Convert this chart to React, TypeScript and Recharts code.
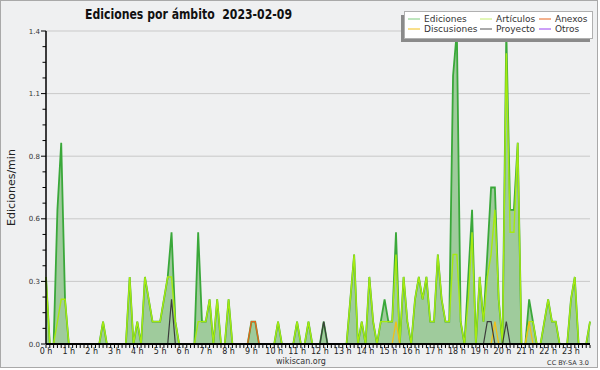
import { ComposedChart, Area, Line, XAxis, YAxis, CartesianGrid } from "recharts";

// ediciones por minuto, un punto cada 10 minutos (00:00 ... 23:50)
const EDICIONES = [
  0.3, 0, 0, 0.6, 0.9, 0.2, 0, 0, 0, 0, 0, 0,
  0, 0, 0, 0.1, 0, 0, 0, 0, 0, 0, 0.3, 0,
  0.1, 0, 0.3, 0.2, 0.1, 0.1, 0.1, 0.2, 0.3, 0.5, 0.1, 0,
  0, 0, 0, 0, 0.5, 0.1, 0.1, 0.2, 0, 0.2, 0, 0,
  0.2, 0, 0, 0, 0, 0, 0.1, 0.1, 0, 0, 0, 0,
  0, 0.1, 0, 0, 0, 0, 0.1, 0, 0, 0.1, 0, 0,
  0, 0.1, 0, 0, 0, 0, 0, 0, 0.2, 0.4, 0, 0.1,
  0, 0.3, 0.1, 0, 0.1, 0.2, 0.1, 0.1, 0.5, 0, 0.3, 0.1,
  0, 0.2, 0.3, 0.2, 0.3, 0.1, 0.1, 0.4, 0.2, 0.1, 0.1, 1.2,
  1.4, 0.1, 0, 0.3, 0.6, 0, 0.3, 0.1, 0.4, 0.7, 0.7, 0.2,
  0, 1.4, 0.6, 0.6, 0.9, 0, 0, 0.2, 0.1, 0, 0, 0.1,
  0.2, 0.1, 0.1, 0, 0, 0, 0.2, 0.3, 0, 0, 0, 0.1,
];

const ARTICULOS = [
  0.3, 0, 0, 0.1, 0.2, 0.2, 0, 0, 0, 0, 0, 0,
  0, 0, 0, 0.1, 0, 0, 0, 0, 0, 0, 0.3, 0,
  0.1, 0, 0.3, 0.2, 0.1, 0.1, 0.1, 0.2, 0.3, 0.3, 0.1, 0,
  0, 0, 0, 0, 0.1, 0.1, 0.1, 0.2, 0, 0.2, 0, 0,
  0.2, 0, 0, 0, 0, 0, 0, 0, 0, 0, 0, 0,
  0, 0.1, 0, 0, 0, 0, 0.1, 0, 0, 0.1, 0, 0,
  0, 0, 0, 0, 0, 0, 0, 0, 0.2, 0.4, 0, 0.1,
  0, 0.3, 0.1, 0, 0.1, 0.1, 0.1, 0.1, 0.4, 0, 0.3, 0.1,
  0, 0.2, 0.3, 0.2, 0.3, 0.1, 0.1, 0.4, 0.2, 0.1, 0.1, 0.4,
  0.4, 0.1, 0, 0.2, 0.5, 0, 0.3, 0.1, 0.3, 0.4, 0.6, 0.2,
  0, 1.3, 0.5, 0.5, 0.9, 0, 0, 0.1, 0.1, 0, 0, 0.1,
  0.2, 0.1, 0.1, 0, 0, 0, 0.2, 0.3, 0, 0, 0, 0.1,
];

// series poco pobladas: [intervalo de 10 min, ediciones/min]
const ANEXOS: [number, number][] = [[54, 0.1], [55, 0.1]];
const DISCUSIONES: [number, number][] = [[92, 0.1], [118, 0.1], [127, 0.1]];
const PROYECTO: [number, number][] = [[33, 0.2], [73, 0.1], [116, 0.1], [117, 0.1], [121, 0.1]];
const OTROS: [number, number][] = [];

const Y_TICKS = Array.from({ length: 21 }, (_, k) => +(k * 0.07).toFixed(2));
const Y_GRID = [0.28, 0.56, 0.84, 1.12, 1.4];

const COLORS = {
  ediciones: "#3aa83a",
  fill: "#9fcb9c",
  articulos: "#a6ea10",
  anexos: "#e8641e",
  discusiones: "#f2c018",
  proyecto: "#3c3c3c",
  otros: "#9a40f0",
};

const LEGEND = [
  { name: "Ediciones", color: "#7fcc7f" },
  { name: "Artículos", color: "#c4ee70" },
  { name: "Anexos", color: COLORS.anexos },
  { name: "Discusiones", color: COLORS.discusiones },
  { name: "Proyecto", color: "#555555" },
  { name: "Otros", color: COLORS.otros },
];

const FONT = "'DejaVu Sans', Verdana, sans-serif";
const N = EDICIONES.length;

function expand(pairs: [number, number][]) {
  const out = new Array(N).fill(0);
  for (const [i, v] of pairs) out[i] = v;
  return out;
}

// keep only the parts of a line that leave the baseline
function trim(vals: number[]) {
  return vals.map((v, i) =>
    v > 0 || (vals[i - 1] ?? 0) > 0 || (vals[i + 1] ?? 0) > 0 ? v : null
  );
}

const anexos = expand(ANEXOS);
const discusiones = expand(DISCUSIONES);
const proyecto = expand(PROYECTO);
const otros = expand(OTROS);

const edLine = trim(EDICIONES);
const artLine = trim(ARTICULOS);
const anLine = trim(anexos);
const diLine = trim(discusiones);
const prLine = trim(proyecto);
const otLine = trim(otros);

const data = EDICIONES.map((v, i) => ({
  i,
  total: v,
  ed: edLine[i],
  art: artLine[i],
  an: anLine[i],
  di: diLine[i],
  pr: prLine[i],
  ot: otLine[i],
}));

const X_TICKS = data.map((d) => d.i);

function XTick(props: any) {
  const { x, y, payload } = props;
  const v = payload.value as number;
  return (
    <g>
      <line x1={x} x2={x} y1={y + 1} y2={y + 4} stroke="#000" strokeWidth={1} />
      {v % 6 === 0 && (
        <text x={x} y={y + 9.5} textAnchor="middle" fontSize={8} fill="#222" fontFamily={FONT}>
          {`${v / 6} h`}
        </text>
      )}
    </g>
  );
}

function YTick(props: any) {
  const { x, y, payload } = props;
  const v = payload.value as number;
  const major = Math.round(v / 0.07) % 4 === 0;
  return (
    <g>
      <line x1={x - (major ? 5 : 3.5)} x2={x} y1={y} y2={y} stroke="#000" strokeWidth={1} />
      {major && (
        <text x={x - 6} y={y + 2.6} textAnchor="end" fontSize={7} fill="#333" fontFamily={FONT}>
          {v.toFixed(1)}
        </text>
      )}
    </g>
  );
}

export default function App() {
  return (
    <div style={{ position: "fixed", left: 0, top: 0, width: 600, height: 370, background: "#ffffff" }}>
      <div style={{ position: "absolute", left: 0, top: 0, width: 598, height: 368, background: "#eff0f1" }} />
      <div style={{ position: "absolute", left: 0, top: 0 }}>
        <ComposedChart width={600} height={370} data={data} margin={{ top: 31, right: 10, bottom: 0, left: 8 }}>
          <CartesianGrid vertical={false} horizontalValues={Y_GRID} stroke="#c9c9c9" strokeWidth={1} />
          <Area
            type="linear"
            dataKey="total"
            stroke="none"
            fill={COLORS.fill}
            fillOpacity={1}
            isAnimationActive={false}
          />
          <Line type="linear" dataKey="ed" stroke={COLORS.ediciones} strokeWidth={1.8} dot={false} isAnimationActive={false} connectNulls={false} />
          <Line type="linear" dataKey="art" stroke={COLORS.articulos} strokeWidth={1.4} dot={false} isAnimationActive={false} connectNulls={false} />
          <Line type="linear" dataKey="an" stroke={COLORS.anexos} strokeWidth={1.3} dot={false} isAnimationActive={false} connectNulls={false} />
          <Line type="linear" dataKey="di" stroke={COLORS.discusiones} strokeWidth={1.3} dot={false} isAnimationActive={false} connectNulls={false} />
          <Line type="linear" dataKey="pr" stroke={COLORS.proyecto} strokeWidth={1.2} dot={false} isAnimationActive={false} connectNulls={false} />
          <Line type="linear" dataKey="ot" stroke={COLORS.otros} strokeWidth={1.2} dot={false} isAnimationActive={false} connectNulls={false} />
          <XAxis
            dataKey="i"
            type="number"
            domain={[0, N - 1]}
            ticks={X_TICKS}
            interval={0}
            height={26}
            tickSize={0}
            tickMargin={0}
            tickLine={false}
            axisLine={{ stroke: "#000", strokeWidth: 2 }}
            tick={<XTick />}
          />
          <YAxis
            type="number"
            domain={[0, 1.4]}
            ticks={Y_TICKS}
            interval={0}
            width={38}
            tickSize={0}
            tickMargin={0}
            tickLine={false}
            axisLine={{ stroke: "#000", strokeWidth: 1.5 }}
            tick={<YTick />}
          />
        </ComposedChart>
      </div>
      <svg width={600} height={370} style={{ position: "absolute", left: 0, top: 0, pointerEvents: "none" }}>
        <rect x={0.5} y={0.5} width={597} height={367} fill="none" stroke="#a9a9a9" />
        <text
          x={85}
          y={19}
          fontSize={13.5}
          fontWeight="bold"
          fill="#111"
          fontFamily={FONT}
          textLength={207}
          lengthAdjust="spacingAndGlyphs"
          style={{ whiteSpace: "pre" }}
        >
          {"Ediciones por ámbito  2023-02-09"}
        </text>
        <text
          x={14.5}
          y={187.5}
          transform="rotate(-90 14.5 187.5)"
          textAnchor="middle"
          fontSize={11}
          fill="#222"
          fontFamily={FONT}
        >
          Ediciones/min
        </text>
        <text x={301} y={364} textAnchor="middle" fontSize={8} fill="#333" fontFamily={FONT}>
          wikiscan.org
        </text>
        <text x={589} y={364.5} textAnchor="end" fontSize={6.5} fill="#333" fontFamily={FONT}>
          CC BY-SA 3.0
        </text>
        <rect x={401} y={15} width={189} height={27} fill="#8a8a8a" />
        <rect x={404.5} y={11.5} width={188} height={27} fill="#ffffff" stroke="#b0b0b0" />
        {LEGEND.map((item, k) => {
          const col = k % 3;
          const row = Math.floor(k / 3);
          const lx = [408, 480, 539][col];
          const ty = 19 + row * 10;
          return (
            <g key={item.name}>
              <line x1={lx} x2={lx + 12} y1={ty} y2={ty} stroke={item.color} strokeWidth={1} />
              <text x={lx + 16} y={ty + 3.2} fontSize={9} fill="#333" fontFamily={FONT}>
                {item.name}
              </text>
            </g>
          );
        })}
      </svg>
    </div>
  );
}
